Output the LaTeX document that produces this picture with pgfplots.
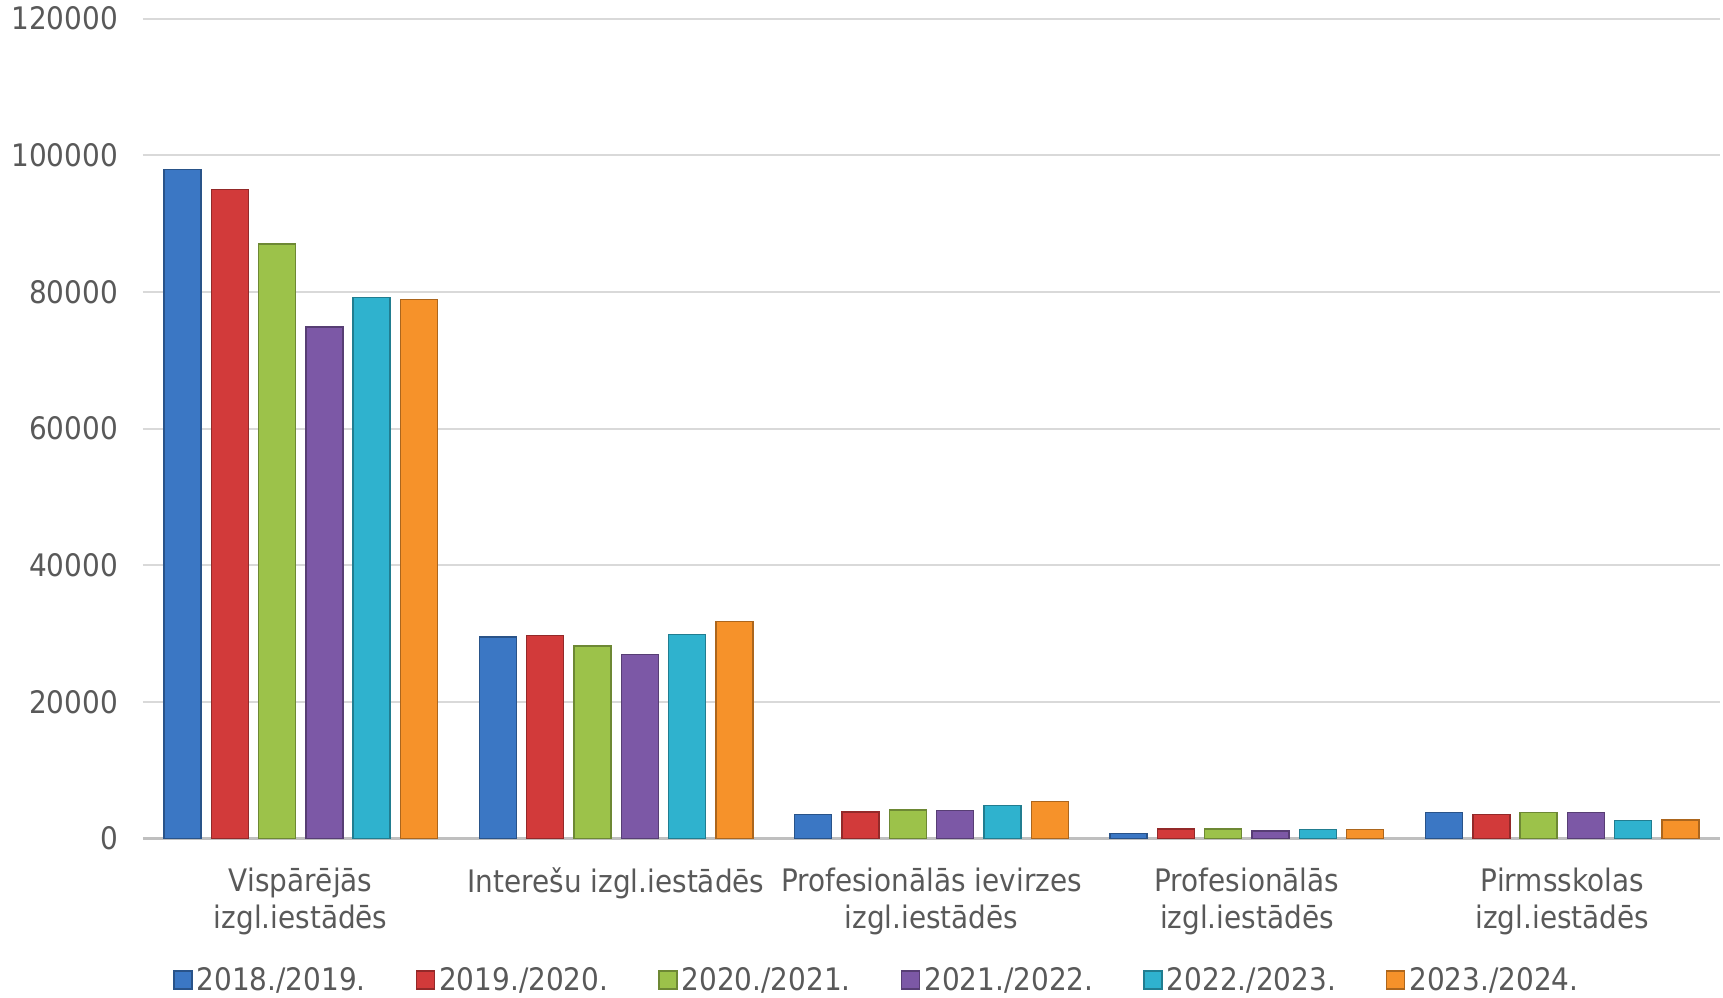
\documentclass[border=0pt]{standalone}
\usepackage{fontspec}
\setmainfont{DejaVu Sans}[FakeStretch=0.9]
\usepackage{pgfplots}
\pgfplotsset{compat=1.18}
\usepackage{pgfplotstable}

\definecolor{txt}{HTML}{595959}
\definecolor{gridc}{HTML}{D9D9D9}
\definecolor{basec}{HTML}{BFBFBF}
\definecolor{cBlue}{HTML}{3B77C4}
\definecolor{cRed}{HTML}{D23A3A}
\definecolor{cGreen}{HTML}{9CC24A}
\definecolor{cPurple}{HTML}{7C58A6}
\definecolor{cCyan}{HTML}{2FB2CE}
\definecolor{cOrange}{HTML}{F6922A}

% x: 0 Vispārējās, 1 Interešu, 2 Prof. ievirzes, 3 Profesionālās, 4 Pirmsskolas
\pgfplotstableread{
x y18 y19 y20 y21 y22 y23
0 97900 95000 87000 74900 79200 78900
1 29500 29700 28200 26900 29900 31800
2 3500 3900 4200 4100 4800 5400
3 700 1400 1400 1100 1300 1300
4 3800 3500 3800 3800 2600 2700
}\datatable

\pgfplotsset{
  bevel/.style={draw=#1!70!black, line width=0.7pt, fill=#1},
}

\begin{document}
\begin{tikzpicture}
\useasboundingbox (-71.5pt,-79.25pt) rectangle (790pt,419.25pt);
\begin{axis}[
  scale only axis,
  width=788.5pt, height=409.9pt,
  ybar=5.15pt, bar width=18.5pt,
  xmin=-0.5, xmax=4.5,
  ymin=0, ymax=120000,
  ytick={0,20000,40000,60000,80000,100000,120000},
  yticklabels={0,20000,40000,60000,80000,100000,120000},
  xtick={0,1,2,3,4},
  xticklabels={Vispārējās\\izgl.iestādēs, Interešu izgl.iestādēs, Profesionālās ievirzes\\izgl.iestādēs, Profesionālās\\izgl.iestādēs, Pirmsskolas\\izgl.iestādēs},
  scaled y ticks=false,
  ymajorgrids, xmajorgrids=false,
  major grid style={color=gridc, line width=0.9pt},
  axis x line*=bottom, axis y line*=left,
  x axis line style={basec, line width=1.4pt, -},
  y axis line style={draw=none},
  tick style={draw=none},
  tick label style={font=\fontsize{15.5}{18.5}\selectfont, text=txt},
  xticklabel style={align=center, yshift=-7pt},
  yticklabel style={xshift=-9pt},
  legend columns=6,
  legend style={draw=none, fill=none, at={(0.466,-0.1726)}, anchor=center,
    font=\fontsize{15.5}{18.5}\selectfont, text=txt,
    /tikz/every even column/.append style={column sep=23pt},
    inner sep=0pt},
  legend image code/.code={\draw[#1] (0pt,-4.5pt) rectangle (9pt,4.5pt);},
]
\addplot[bevel=cBlue] table[x=x,y=y18] {\datatable};
\addlegendentry{2018./2019.}
\addplot[bevel=cRed] table[x=x,y=y19] {\datatable};
\addlegendentry{2019./2020.}
\addplot[bevel=cGreen] table[x=x,y=y20] {\datatable};
\addlegendentry{2020./2021.}
\addplot[bevel=cPurple] table[x=x,y=y21] {\datatable};
\addlegendentry{2021./2022.}
\addplot[bevel=cCyan] table[x=x,y=y22] {\datatable};
\addlegendentry{2022./2023.}
\addplot[bevel=cOrange] table[x=x,y=y23] {\datatable};
\addlegendentry{2023./2024.}
\end{axis}
\end{tikzpicture}
\end{document}
